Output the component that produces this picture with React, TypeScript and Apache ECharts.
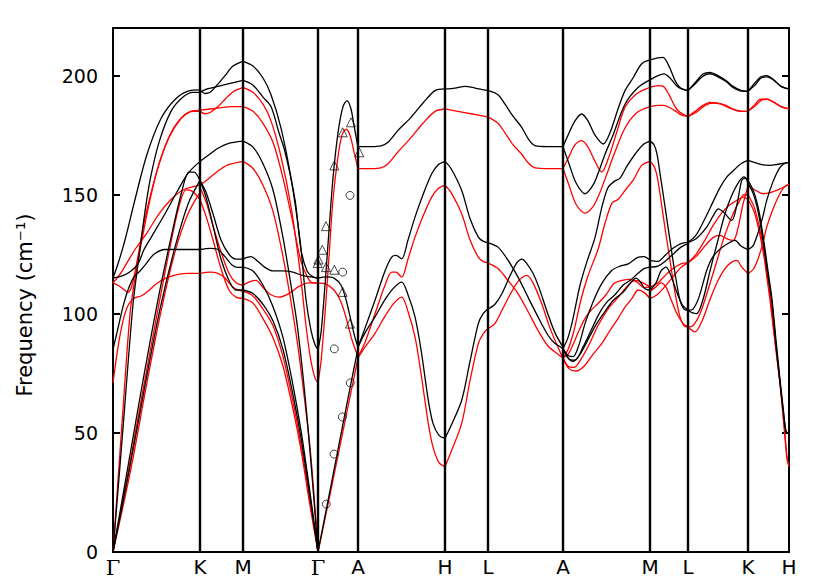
import React, { useEffect, useRef } from 'react';
import * as echarts from 'echarts';

type Pt = [number, number];
type Branch = Pt[];

// High-symmetry points (path distance) and their labels
const TICK_POS = [0, 87, 130, 205, 245, 332, 375, 450, 537, 575, 635, 676];
const TICK_LABELS = ['Γ', 'K', 'M', 'Γ', 'A', 'H', 'L', 'A', 'M', 'L', 'K', 'H'];
const Y_TICKS = [0, 50, 100, 150, 200];
const Y_TITLE = 'Frequency (cm⁻¹)';

// ---- Γ-K ----
const GK_BLACK: Branch[] = [
  [[0, 0], [10, 52], [20, 104], [26, 124], [31, 140], [37, 156], [46, 172], [58, 185], [70, 191], [80, 193], [87, 193]],
  [[0, 115], [5, 121], [12, 131], [22, 148], [34, 167], [48, 182], [62, 190], [75, 193.5], [87, 194]],
  [[0, 85], [5, 94], [10, 103], [15, 110], [21, 115.5], [27, 118], [33, 121], [41, 125], [52, 127], [65, 127], [78, 127], [87, 127]],
  [[0, 115], [10, 116], [18, 118], [25, 121], [31, 127], [38, 132], [52, 142], [65, 152], [75, 159], [87, 164]],
  [[0, 0], [15, 36], [30, 72], [45, 106], [58, 132], [68, 150], [76, 159.5], [81, 159.5], [87, 156]],
  [[0, 0], [17, 36], [32, 70], [47, 102], [62, 128], [75, 146], [87, 156]],
];
const GK_RED: Branch[] = [
  [[0, 0], [9, 54], [17, 100], [22, 115], [28, 129], [36, 146], [46, 163], [58, 176], [70, 183], [80, 185], [87, 185]],
  [[0, 113], [7, 111.5], [15, 109], [19, 112], [24, 122], [32, 140], [44, 160], [56, 174], [68, 182], [78, 185], [87, 185.5]],
  [[0, 71], [5, 86], [10, 97], [15, 103.5], [21, 106.5], [28, 107.5], [35, 109.5], [43, 112.5], [53, 115], [64, 116.5], [76, 117], [87, 117]],
  [[0, 113], [6, 116], [12, 120], [22, 127], [34, 134], [46, 142], [58, 148], [70, 152], [87, 154]],
  [[0, 0], [15, 33], [30, 68], [45, 102], [57, 128], [66, 145], [73, 152], [79, 151.5], [87, 148]],
  [[0, 0], [18, 35], [33, 69], [48, 101], [62, 126], [75, 142], [87, 151]],
];

// ---- K-M ----
const KM_BLACK: Branch[] = [
  [[87, 194], [92, 192.5], [97, 193], [104, 196], [112, 200], [120, 204], [130, 206]],
  [[87, 193], [95, 194.5], [105, 195.5], [115, 196.5], [130, 198]],
  [[87, 164], [95, 166.5], [105, 169.5], [115, 171.5], [130, 172.5]],
  [[87, 156], [93, 151], [100, 142], [108, 131], [116, 125], [123, 123], [130, 123]],
  [[87, 156], [93, 149], [100, 137], [108, 123], [116, 114], [123, 110], [130, 110]],
  [[87, 127], [97, 127.5], [105, 127], [112, 124], [119, 120.5], [125, 119.5], [130, 119.6]],
];
const KM_RED: Branch[] = [
  [[87, 185], [92, 184], [97, 184.5], [105, 187], [113, 190.5], [121, 193.5], [130, 195]],
  [[87, 185.5], [97, 186], [107, 186.5], [118, 187], [130, 187]],
  [[87, 154], [95, 156.5], [105, 160], [115, 162.5], [130, 164]],
  [[87, 153], [93, 147], [100, 137], [108, 126], [116, 117], [123, 113], [130, 112]],
  [[87, 148], [93, 141], [100, 131], [108, 119], [116, 110], [123, 107], [130, 106.5]],
  [[87, 117], [97, 117.5], [105, 117], [112, 115], [119, 111.5], [125, 110], [130, 109.5]],
];

// ---- M-Γ ----
const MG_BLACK: Branch[] = [
  [[130, 206], [140, 204], [150, 199], [158, 192], [168, 178], [178, 157], [187, 131], [193, 106], [198, 93], [202, 87], [205, 85]],
  [[130, 198], [140, 196], [150, 191], [158, 187], [166, 176], [172, 168], [182, 148], [188, 127], [194, 118], [200, 115.5], [205, 115]],
  [[130, 172.5], [140, 170], [150, 163], [160, 152], [170, 132], [178, 112], [184, 96], [190, 74], [195, 52], [200, 27], [205, 0]],
  [[130, 123], [138, 124], [145, 122], [152, 119.5], [160, 118], [170, 118], [180, 117.5], [190, 116], [198, 115.5], [205, 115]],
  [[130, 119.6], [140, 118], [150, 112], [160, 103], [170, 90], [180, 70], [188, 51], [196, 28], [205, 0]],
  [[130, 110], [140, 108.5], [150, 104], [160, 97], [170, 85], [180, 66], [188, 48], [196, 26], [205, 0]],
];
const MG_RED: Branch[] = [
  [[130, 195], [140, 193], [150, 188], [158, 181], [168, 166], [178, 145], [187, 118], [193, 95], [198, 80], [202, 73], [205, 71]],
  [[130, 187], [140, 185], [150, 180], [160, 172], [170, 157], [180, 138], [188, 122], [195, 115], [200, 113], [205, 113]],
  [[130, 164], [140, 161], [150, 154], [160, 143], [170, 124], [178, 105], [185, 86], [191, 66], [197, 44], [201, 24], [205, 0]],
  [[130, 112], [137, 113.5], [143, 114], [150, 111], [158, 108], [166, 107], [176, 108.5], [186, 111.5], [196, 113], [205, 113]],
  [[130, 109.5], [140, 107.5], [150, 102], [160, 95], [170, 82], [180, 63], [188, 45], [196, 24], [205, 0]],
  [[130, 106.5], [140, 104.5], [150, 98], [160, 90], [170, 78], [180, 60], [188, 43], [196, 22], [205, 0]],
];

// ---- Γ-A ----
const GA_BLACK: Branch[] = [
  [[205, 85], [208, 92], [212, 112], [216, 135], [220, 157], [225, 176], [230, 187], [234, 189.5], [238, 186], [241, 179], [245, 170]],
  [[205, 0], [215, 21.5], [225, 43], [235, 64.5], [245, 85.5]],
  [[205, 115], [213, 115.5], [221, 115], [228, 112], [233, 106], [238, 97], [242, 90], [245, 86]],
];
const GA_RED: Branch[] = [
  [[205, 71], [208, 80], [212, 100], [216, 124], [220, 148], [225, 166], [229, 175], [233, 177.5], [237, 175], [241, 168], [245, 161]],
  [[205, 0], [215, 20], [225, 40.5], [235, 61], [245, 81.5]],
  [[205, 113], [213, 112.5], [221, 110], [228, 105], [234, 97], [239, 89], [245, 82]],
];

// ---- A-H ----
const AH_BLACK: Branch[] = [
  [[245, 170.2], [258, 170.2], [268, 170.5], [275, 172], [285, 177], [298, 182.5], [310, 188.5], [322, 193.7], [332, 194.4]],
  [[245, 86], [252, 94], [262, 105.7], [272, 118], [278.7, 123.8], [283, 124.5], [288.7, 123.1], [295, 131], [302, 140.6], [310, 150], [318.7, 158.8], [325, 162.5], [332, 164]],
  [[245, 86], [252, 92], [262, 98.7], [272, 106], [281, 111], [288.7, 113.3], [295, 108], [302, 98.7], [308, 85], [315.3, 63.7], [320, 54], [326, 49], [332, 47.7]],
];
const AH_RED: Branch[] = [
  [[245, 161], [258, 161], [268, 161.3], [275, 163], [285, 168], [298, 174], [310, 180], [322, 185], [332, 186]],
  [[245, 82], [252, 88], [262, 100], [272, 112], [278.7, 117.5], [283, 117.5], [288.7, 115.4], [295, 123], [302, 132.2], [310, 141], [318.7, 149], [325, 152.5], [332, 154]],
  [[245, 81.5], [252, 86], [262, 91.8], [272, 99], [281, 104.5], [288.7, 107], [295, 101], [302, 90.3], [308, 75], [315.3, 54], [320, 44], [326, 37.5], [332, 35.8]],
];

// ---- H-L ----
const HL_BLACK: Branch[] = [
  [[332, 194.4], [342, 194.8], [352, 195.5], [362, 194.8], [375, 193.7]],
  [[332, 164], [338, 161], [348.7, 151.8], [357, 140], [365.3, 132.2], [370, 130.5], [375, 129.8]],
  [[332, 47.7], [338, 53], [348.7, 63.7], [357, 80], [365.3, 95.9], [370, 100], [375, 102]],
];
const HL_RED: Branch[] = [
  [[332, 186], [345, 185], [358, 184], [375, 182.7]],
  [[332, 154], [338, 151], [348.7, 142], [357, 131], [365.3, 123.8], [370, 122], [375, 121.3]],
  [[332, 35.8], [338, 42], [348.7, 54], [357, 72], [365.3, 87.5], [370, 91.5], [375, 93.8]],
];

// ---- L-A ----
const LA_BLACK: Branch[] = [
  [[375, 193.7], [385, 192], [392, 188], [400, 183], [408.7, 178.3], [416, 173], [422, 170.6], [435, 170.2], [450, 170.2]],
  [[375, 129.8], [385, 128], [395, 122.5], [405, 115.4], [415, 107], [425, 98.7], [435, 91], [442, 87.5], [450, 85.4]],
  [[375, 102], [382, 104], [389, 108.5], [397, 116], [404, 121.5], [409, 123], [414, 121], [420, 117], [426, 111], [434, 101], [442, 92], [450, 86]],
];
const LA_RED: Branch[] = [
  [[375, 182.7], [385, 180], [392, 176], [400, 171], [408.7, 167], [416, 163], [422, 161.3], [435, 161], [450, 161]],
  [[375, 121.3], [385, 119], [395, 114], [405, 108.5], [415, 101], [425, 93], [435, 86.5], [445, 83], [450, 81.5]],
  [[375, 93.8], [382, 96], [389, 101.5], [397, 108], [405, 113.5], [413.7, 116.1], [420, 113], [428.7, 104.3], [437, 94], [445, 86], [450, 81.5]],
];

// ---- A-M ----
const AM_BLACK: Branch[] = [
  [[450, 170.2], [455, 175], [462, 181], [468.7, 183.9], [475, 181], [482, 175], [490.3, 171.3], [497, 176], [505, 186], [512, 193.7], [520, 199], [528.7, 205], [537, 206.6]],
  [[450, 170.2], [456, 163], [463, 155], [472, 150.4], [480, 154], [486, 160], [492, 167], [500, 175], [512, 188], [525, 195], [537, 198.2]],
  [[450, 85.4], [455, 90], [460, 98], [467, 112], [474, 122], [482, 132], [489, 145], [495, 153], [501, 155.5], [507, 157], [514, 162], [522, 167], [530, 171], [537, 172.5]],
  [[450, 85.4], [455, 82.5], [460, 82], [466, 87], [472, 95.9], [480, 105], [488.7, 112.7], [498.7, 118.2], [507, 120], [515.3, 121], [525.3, 123.8], [531, 124], [537, 122.4]],
  [[450, 85.4], [456, 81], [462, 80.5], [470, 86], [478, 93], [486, 100], [494, 105], [502, 108], [510, 112], [517, 114], [525, 117], [531, 119], [537, 119.6]],
  [[450, 85.4], [455, 81.5], [460, 80], [467, 83], [476, 90], [483.7, 95.9], [492, 101], [500.3, 105.7], [510, 109], [517, 112.7], [523, 115], [528, 113], [532, 110.5], [537, 109.9]],
];
const AM_RED: Branch[] = [
  [[450, 161], [456, 166], [462, 171], [468.7, 172.7], [475, 170], [482, 164], [488.7, 159.5], [496, 166], [505, 178], [512, 186.7], [524, 192.5], [537, 195.1]],
  [[450, 161], [456, 154], [463, 146], [472, 142.3], [480, 145], [486, 150], [494, 158.8], [502, 168], [512, 178], [524, 184.5], [537, 187]],
  [[450, 81.5], [455, 85], [461, 93], [468, 106], [475, 116], [485, 127], [492, 138], [499, 146.5], [505, 148], [512, 151.8], [520, 156], [528.7, 162.3], [537, 164]],
  [[450, 81.5], [455, 78], [461, 77.5], [468, 81], [476, 87], [485, 95], [495, 102], [505.3, 107], [514, 111.5], [522, 114], [530, 113], [537, 111.2]],
  [[450, 81.5], [456, 77], [463, 76], [471, 78], [480, 83], [488.7, 87.5], [497, 93], [505, 98], [512, 102.8], [519, 106.5], [525.3, 110], [531, 109], [537, 106.4]],
  [[450, 81.5], [455, 83], [460, 87], [466, 93], [472, 98], [478, 101.5], [485, 104.3], [493, 108], [501, 112.7], [509, 114], [517, 114.5], [525, 113], [531, 111], [537, 111.2]],
];

// ---- M-L ----
const ML_BLACK: Branch[] = [
  [[537, 206.6], [545, 207.5], [550, 207.7], [556, 204], [562, 198], [567, 195], [575, 193.7]],
  [[537, 198.2], [545, 200], [551, 200.7], [557, 199], [563, 196], [568, 194.5], [575, 193.7]],
  [[537, 172.5], [541, 171], [544, 167], [547, 159], [552, 145], [557, 130.8], [562, 117], [567, 105.7], [571, 102], [575, 101.5]],
  [[537, 122.4], [545, 122], [552, 124.5], [560, 127.5], [568, 129.5], [575, 130]],
  [[537, 119.6], [545, 120], [552, 122], [560, 125], [568, 128], [575, 129.5]],
  [[537, 109.9], [543, 113], [548, 118], [553, 119.6], [558, 116], [563, 110], [569, 104], [575, 101.5]],
];
const ML_RED: Branch[] = [
  [[537, 195.1], [545, 195.8], [550, 195.6], [556, 192], [562, 187], [567, 184.6], [575, 182.8]],
  [[537, 187], [545, 187.5], [551, 187.5], [557, 186.5], [563, 185], [568, 183.5], [575, 182.8]],
  [[537, 164], [541, 162], [544, 158], [547, 150.4], [552, 136], [557, 122.4], [562, 109], [567, 98.7], [571, 95], [575, 94.5]],
  [[537, 111.2], [545, 113], [552, 116], [560, 119], [568, 121], [575, 121.5]],
  [[537, 106.4], [544, 108], [552, 111.5], [560, 115.5], [568, 119.5], [575, 121.5]],
  [[537, 109.5], [542, 111], [548, 113], [553, 111.2], [558, 106], [564, 100], [570, 96], [575, 94.5]],
];

// ---- L-K ----
const LK_BLACK: Branch[] = [
  [[575, 193.7], [582, 197], [590, 200.7], [597, 201.4], [605, 200], [613, 197.9], [620, 195.5], [628, 193.8], [635, 193.4]],
  [[575, 193.7], [582, 196.5], [590, 199.8], [597, 200.8], [605, 199.5], [613, 197.5], [620, 195], [628, 193.5], [635, 193.4]],
  [[575, 130], [583, 131.5], [593.7, 136.4], [600, 141], [605.3, 144.1], [611, 142.5], [618.7, 139.2], [624, 146], [628.7, 156], [632, 157], [635, 155]],
  [[575, 130], [583, 133], [592, 140], [600, 147], [607, 153], [613.7, 157.4], [620, 160], [628, 163], [635, 164.4]],
  [[575, 101.5], [580, 102], [586, 107], [593.7, 118.2], [600, 124], [608, 127.5], [615, 129.5], [622, 130.8], [628, 128.5], [635, 126.9]],
  [[575, 101.5], [579, 100.5], [583.7, 100.1], [590, 106], [597, 118], [605, 131], [612, 142], [619, 150], [626, 155.5], [631, 157.5], [635, 156]],
];
const LK_RED: Branch[] = [
  [[575, 182.8], [582, 185], [590, 187.5], [597, 188.8], [605, 188.5], [613, 187.5], [620, 186], [628, 185], [635, 185]],
  [[575, 182.8], [583, 184.5], [592, 187.5], [600, 188.5], [608, 188], [616, 186.5], [625, 185.2], [635, 185]],
  [[575, 121.5], [583, 124], [592, 128.5], [600, 132], [607, 132.9], [614, 131.5], [620.3, 130.8], [625, 136], [630, 146], [635, 153.6]],
  [[575, 121.5], [583, 125], [592, 131], [600, 137], [608, 142], [616, 145.5], [623.7, 147.6], [630.3, 149], [635, 148]],
  [[575, 94.5], [582, 92.4], [589, 97], [597, 106], [605, 114], [612, 119], [618, 121.5], [623.7, 122.4], [629, 119.5], [635, 116.9]],
  [[575, 94.5], [580, 95], [587, 100], [595, 110], [603, 121], [611, 132], [619, 141], [626, 147], [631, 150], [635, 150]],
];

// ---- K-H ----
const KH_BLACK: Branch[] = [
  [[635, 193.4], [641, 196.5], [648, 199.5], [653.7, 200], [660, 198.5], [668, 195.5], [676, 194.4]],
  [[635, 193.4], [642, 196], [648, 199], [654, 199.5], [661, 198], [668, 195.5], [676, 194.4]],
  [[635, 164.4], [642, 163.5], [650, 162.5], [657, 162.3], [665, 162.8], [676, 163.6]],
  [[635, 126.9], [640, 128.5], [645, 134], [650, 141], [653.7, 147.6], [660, 155.5], [667, 161.5], [672, 163.2], [676, 163.6]],
  [[635, 155], [641, 149.5], [646, 141], [651, 128], [655, 116], [658.7, 105.7], [662.7, 88], [666.7, 72], [670, 60], [672.5, 51], [674, 49.8], [676, 49.8]],
  [[635, 156], [641, 151], [646, 143], [651, 130], [655, 118], [659, 106], [663, 89], [667, 72.5], [670, 61], [672.5, 52], [674, 50], [676, 49.8]],
];
const KH_RED: Branch[] = [
  [[635, 185], [641, 187.5], [647, 190], [653.7, 190.2], [660, 189], [668, 187], [676, 186]],
  [[635, 185], [642, 187.2], [648, 189.6], [654, 190], [661, 188.8], [668, 187], [676, 186]],
  [[635, 153.6], [642, 152], [650, 150.4], [658, 151], [667, 152.5], [676, 154.3]],
  [[635, 116.9], [640, 118.5], [645, 123], [650, 130], [653.7, 136.4], [660, 144], [667, 150.5], [672, 153.5], [676, 154.3]],
  [[635, 148], [641, 143], [646, 135], [651, 124], [654, 115], [657, 105.7], [662, 88], [667, 70.7], [671, 53], [674, 39], [676, 36]],
  [[635, 150], [641, 145], [646, 137], [651, 126], [654, 117], [657.5, 106], [662, 89], [667, 71], [671, 54], [674, 40], [676, 36]],
];

// ---- experimental points along Γ-A ----
const EXP_CIRCLES: Pt[] = [
  [213.3, 20.1], [221, 41.1], [229.3, 56.7], [237.3, 71], [221.3, 85.3], [229.7, 117.5], [237, 149.7],
];
const EXP_TRIANGLES: Pt[] = [
  [204.7, 121.3], [205.5, 122.8], [209.3, 126.9], [213, 136.8], [213, 119.6], [221.3, 118.5],
  [229.7, 109.2], [237, 95.9], [221.3, 162.3], [229.7, 176.2], [238, 180.4], [246.3, 167.8],
];

const BLACK_SETS = [GK_BLACK, KM_BLACK, MG_BLACK, GA_BLACK, AH_BLACK, HL_BLACK, LA_BLACK, AM_BLACK, ML_BLACK, LK_BLACK, KH_BLACK];
const RED_SETS = [GK_RED, KM_RED, MG_RED, GA_RED, AH_RED, HL_RED, LA_RED, AM_RED, ML_RED, LK_RED, KH_RED];

const SANS = '"DejaVu Sans", "Liberation Sans", sans-serif';
const SERIF = '"DejaVu Serif", "Liberation Serif", serif';

export default function App() {
  const ref = useRef<HTMLDivElement>(null);

  useEffect(() => {
    if (!ref.current) return;
    const chart = echarts.init(ref.current, undefined, { renderer: 'svg' });

    const lineSeries = (data: Branch, color: string, z: number) => ({
      type: 'line',
      data,
      smooth: 0.3,
      symbol: 'none',
      showSymbol: false,
      silent: true,
      z,
      lineStyle: { color, width: 1.3 },
    });

    const series: any[] = [];
    RED_SETS.forEach((set) => set.forEach((b) => series.push(lineSeries(b, '#ff0000', 2))));
    BLACK_SETS.forEach((set) => set.forEach((b) => series.push(lineSeries(b, '#000000', 3))));

    // vertical lines at the high-symmetry points
    series.push({
      type: 'line',
      data: [[0, -10]],
      symbol: 'none',
      silent: true,
      lineStyle: { width: 0 },
      z: 4,
      markLine: {
        silent: true,
        symbol: ['none', 'none'],
        label: { show: false },
        lineStyle: { color: '#000', width: 2.4, type: 'solid' },
        data: TICK_POS.slice(1, TICK_POS.length - 1).map((x) => ({ xAxis: x })),
        animation: false,
      },
    });

    series.push({
      type: 'scatter',
      data: EXP_CIRCLES,
      symbol: 'circle',
      symbolSize: 8,
      silent: true,
      z: 5,
      itemStyle: { color: 'rgba(0,0,0,0)', borderColor: '#000', borderWidth: 0.9 },
    });
    series.push({
      type: 'scatter',
      data: EXP_TRIANGLES,
      symbol: 'triangle',
      symbolSize: 9,
      silent: true,
      z: 5,
      itemStyle: { color: 'rgba(0,0,0,0)', borderColor: '#000', borderWidth: 0.9 },
    });

    chart.setOption({
      animation: false,
      backgroundColor: '#fff',
      grid: { left: 113, right: 41, top: 28, bottom: 29, show: true, borderColor: '#000', borderWidth: 2, backgroundColor: 'transparent' },
      graphic: [
        {
          type: 'text',
          x: 25,
          y: 305,
          rotation: Math.PI / 2,
          silent: true,
          style: {
            text: Y_TITLE,
            fontSize: 21,
            fontFamily: SANS,
            fill: '#000',
            textAlign: 'center',
            textVerticalAlign: 'middle',
          },
        },
      ],
      xAxis: {
        type: 'value',
        min: 0,
        max: 676,
        axisLine: { show: true, onZero: false, lineStyle: { color: '#000', width: 2 } },
        axisTick: { show: false },
        splitLine: { show: false },
        axisLabel: {
          customValues: TICK_POS,
          margin: 5,
          color: '#000',
          fontSize: 20,
          fontFamily: SANS,
          formatter: (v: number) => {
            const i = TICK_POS.indexOf(v);
            const s = i >= 0 ? TICK_LABELS[i] : '';
            return s === 'Γ' ? '{g|Γ}' : s;
          },
          rich: { g: { fontFamily: SERIF, fontSize: 21, color: '#000' } },
        },
      },
      yAxis: [
        {
          type: 'value',
          min: 0,
          max: 220,
          position: 'left',
          axisLine: { show: true, lineStyle: { color: '#000', width: 2 } },
          axisTick: { show: true, inside: true, length: 7, customValues: Y_TICKS, lineStyle: { color: '#000', width: 2 } },
          axisLabel: { customValues: Y_TICKS, margin: 15, color: '#000', fontSize: 19, fontFamily: SANS },
          splitLine: { show: false },
        },
        {
          type: 'value',
          min: 0,
          max: 220,
          position: 'right',
          axisLine: { show: true, lineStyle: { color: '#000', width: 2 } },
          axisTick: { show: true, inside: true, length: 7, customValues: Y_TICKS, lineStyle: { color: '#000', width: 2 } },
          axisLabel: { show: false },
          splitLine: { show: false },
        },
      ],
      series,
    });

    return () => chart.dispose();
  }, []);

  return (
    <div
      ref={ref}
      style={{ position: 'fixed', left: 0, top: 0, width: 830, height: 581, background: '#fff' }}
    />
  );
}
